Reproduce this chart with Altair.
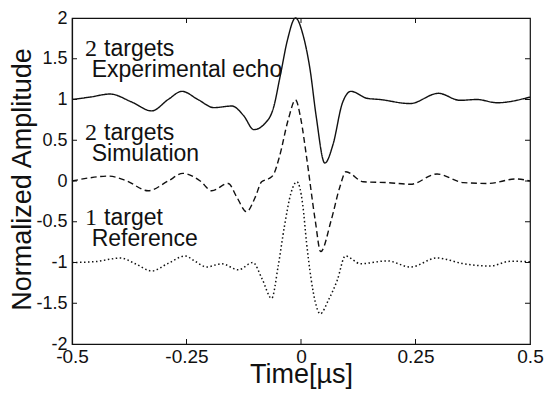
import altair as alt
import pandas as pd

# ---- data ----
exp_t = [-0.5, -0.46, -0.417, -0.37, -0.326, -0.29, -0.26, -0.225, -0.19, -0.151, -0.125, -0.103,
         -0.08, -0.06, -0.045, -0.03, -0.012, 0.005, 0.02, 0.033, 0.052, 0.07, 0.09, 0.109,
         0.144, 0.172, 0.238, 0.30, 0.347, 0.384, 0.428, 0.5]
exp_v = [1.0, 1.03, 1.067, 0.97, 0.86, 1.0, 1.10, 1.0, 0.9, 0.92, 0.8, 0.63,
         0.7, 0.9, 1.3, 1.72, 2.0, 1.78, 1.36, 0.8, 0.22, 0.45, 0.95, 1.10,
         1.015, 1.0, 0.95, 1.076, 0.99, 1.0, 0.96, 1.03]

sim_t = [-0.5, -0.46, -0.42, -0.38, -0.334, -0.29, -0.258, -0.22, -0.195, -0.159, -0.14, -0.119,
         -0.1, -0.086, -0.07, -0.06, -0.047, -0.028, -0.012, 0.0, 0.012, 0.031, 0.043, 0.066,
         0.085, 0.098, 0.136, 0.19, 0.239, 0.297, 0.355, 0.41, 0.468, 0.5]
sim_v = [0.0, 0.04, 0.06, 0.0, -0.12, 0.0, 0.094, 0.0, -0.12, -0.03, -0.2, -0.377,
         -0.2, -0.01, 0.03, 0.08, 0.3, 0.75, 0.994, 0.75, 0.3, -0.48, -0.867, -0.48,
         -0.07, 0.114, -0.01, -0.02, -0.04, 0.086, -0.02, -0.03, 0.025, 0.0]

ref_t = [-0.5, -0.45, -0.394, -0.36, -0.326, -0.29, -0.253, -0.23, -0.206, -0.173, -0.137, -0.105,
         -0.085, -0.064, -0.05, -0.036, -0.022, -0.009, 0.004, 0.012, 0.022, 0.031, 0.042, 0.06,
         0.079, 0.097, 0.13, 0.188, 0.239, 0.297, 0.355, 0.413, 0.457, 0.5]
ref_v = [-1.0, -0.99, -0.945, -1.02, -1.104, -1.01, -0.92, -0.99, -1.055, -1.015, -1.09, -1.0,
         -1.2, -1.44, -1.05, -0.55, -0.15, -0.01, -0.3, -0.75, -1.2, -1.48, -1.63, -1.46,
         -1.22, -0.92, -1.015, -0.98, -1.055, -0.945, -1.015, -1.043, -0.985, -0.99]

x_ticks = [-0.5, -0.25, 0, 0.25, 0.5]
y_ticks = [-2, -1.5, -1, -0.5, 0, 0.5, 1, 1.5, 2]
inner_x_ticks = [-0.25, 0, 0.25]
inner_y_ticks = [-1.5, -1, -0.5, 0, 0.5, 1, 1.5]

ann_num = ["2", "2", "1"]
ann_word = ["targets", "targets", "target"]
ann_label = ["Experimental echo", "Simulation", "Reference"]
ann_num_y = [1.534, 0.503, -0.546]
ann_label_y = [1.276, 0.245, -0.798]

# ---- chart ----
FONT = "Liberation Sans"
xs = alt.Scale(domain=[-0.5, 0.5], nice=False, zero=False)
ys = alt.Scale(domain=[-2, 2], nice=False, zero=False)

x_axis = alt.Axis(values=x_ticks, labelExpr="'' + datum.value", title="Time[µs]",
                  ticks=False, tickSize=0, grid=False, labelPadding=3, labelFontSize=19,
                  titleFontSize=27, titleFontWeight="normal", titleBaseline="alphabetic",
                  titleY=38, labelFlush=False, labelOverlap=False)
y_axis = alt.Axis(values=y_ticks, labelExpr="'' + datum.value", title="Normalized Amplitude",
                  ticks=False, tickSize=0, grid=False, labelPadding=5, labelFontSize=18,
                  titleFontSize=27, titleFontWeight="normal", titleBaseline="alphabetic",
                  titleX=-42, titleY=161, titleAngle=-90, labelFlush=False, labelOverlap=False)

def line(ts, vs, dash, width):
    df = pd.DataFrame({"t": ts, "v": vs})
    return alt.Chart(df).mark_line(color="#111", strokeWidth=width, strokeDash=dash,
                                   interpolate="monotone").encode(
        x=alt.X("t:Q", scale=xs, axis=x_axis),
        y=alt.Y("v:Q", scale=ys, axis=y_axis),
    )

exp_line = line(exp_t, exp_v, [1, 0], 1.4)
sim_line = line(sim_t, sim_v, [6, 3.5], 1.4)
ref_line = line(ref_t, ref_v, [1.5, 2.5], 1.5)

dx = 5 / 458
dy = 5 / 81.5
tick_rows = []
for v in inner_y_ticks:
    tick_rows.append({"x": -0.5, "x2": -0.5 + dx, "y": v, "y2": v})
    tick_rows.append({"x": 0.5, "x2": 0.5 - dx, "y": v, "y2": v})
for t in inner_x_ticks:
    tick_rows.append({"x": t, "x2": t, "y": -2, "y2": -2 + dy})
    tick_rows.append({"x": t, "x2": t, "y": 2, "y2": 2 - dy})
ticks = alt.Chart(pd.DataFrame(tick_rows)).mark_rule(color="#111", strokeWidth=1).encode(
    x=alt.X("x:Q", scale=xs), x2="x2:Q",
    y=alt.Y("y:Q", scale=ys), y2="y2:Q",
)

ann_df = pd.DataFrame({
    "num": ann_num, "word": ann_word, "label": ann_label,
    "ny": ann_num_y, "ly": ann_label_y,
    "nx": [-0.4716] * 3, "wx": [-0.43] * 3, "lx": [-0.457] * 3,
})
num_text = alt.Chart(ann_df).mark_text(font="Liberation Serif", fontSize=24, align="left",
                                       baseline="alphabetic", color="#111").encode(
    x=alt.X("nx:Q", scale=xs), y=alt.Y("ny:Q", scale=ys), text="num:N")
word_text = alt.Chart(ann_df).mark_text(font=FONT, fontSize=23, align="left",
                                        baseline="alphabetic", color="#111").encode(
    x=alt.X("wx:Q", scale=xs), y=alt.Y("ny:Q", scale=ys), text="word:N")
label_text = alt.Chart(ann_df).mark_text(font=FONT, fontSize=23, align="left",
                                         baseline="alphabetic", color="#111").encode(
    x=alt.X("lx:Q", scale=xs), y=alt.Y("ly:Q", scale=ys), text="label:N")

chart = alt.layer(exp_line, sim_line, ref_line, ticks, num_text, word_text, label_text).properties(
    width=458, height=326,
    autosize=alt.AutoSizeParams(type="none"),
    padding={"left": 64, "top": 10, "right": 16, "bottom": 48},
    background="white",
).configure_view(stroke="#111", strokeWidth=1.2).configure_axis(
    domainColor="#111", domainWidth=1.2, labelColor="#111", titleColor="#111",
    labelFont=FONT, titleFont=FONT,
)

chart.save("out.html", embed_options={"renderer": "svg", "actions": False})
